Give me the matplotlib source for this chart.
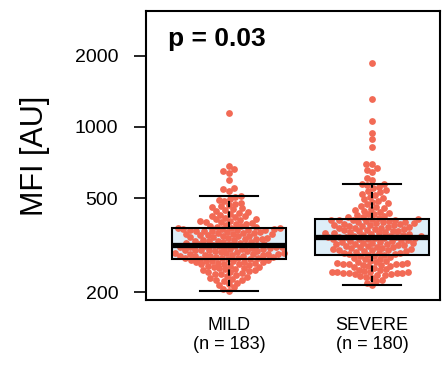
import numpy as np
import matplotlib
matplotlib.use("Agg")
import matplotlib.pyplot as plt

# MFI per group (AU)
groups = ["MILD", "SEVERE"]
group_n = [183, 180]

mild = [
    203, 206, 210, 214, 217, 219, 222, 224, 226, 228, 230, 232, 234, 236, 238,
    239, 241, 242, 244, 245, 247, 248, 250, 251, 252, 254, 255, 256, 258, 259,
    260, 262, 263, 264, 265, 266, 267, 268, 269, 270, 271, 272, 273, 274, 275, 276,
    277, 278, 279, 280, 280, 281, 282, 283, 284, 285, 285, 286, 287, 288, 289,
    290, 290, 291, 292, 293, 294, 295, 296, 297, 298, 299, 300, 300, 301, 302,
    303, 304, 305, 306, 307, 308, 309, 310, 310, 311, 312, 313, 314, 315, 316,
    317, 318, 320, 321, 322, 324, 325, 326, 328, 329, 330, 332, 333, 334, 336,
    337, 338, 340, 341, 342, 344, 345, 347, 348, 349, 351, 352, 353, 355, 356,
    357, 359, 360, 361, 362, 364, 365, 366, 367, 368, 369, 370, 371, 372, 373, 374,
    376, 378, 380, 382, 384, 388, 390, 392, 394, 396, 398, 400, 403, 406, 409,
    412, 415, 418, 421, 424, 428, 432, 436, 440, 444, 448, 452, 457, 462, 467,
    472, 478, 484, 490, 497, 503, 510,
    537, 545, 552, 597, 640, 651, 662, 683, 1148,
]

severe = [
    214, 218, 222, 226, 229, 232, 234, 236, 237, 238, 239, 240, 240, 241, 241,
    242, 242, 243, 244, 245, 247, 249, 251, 253, 255, 257, 259, 260, 261, 262,
    263, 264, 264, 265, 266, 267, 268, 270, 272, 275, 277, 279, 281, 283, 285,
    287, 288, 289, 291, 292, 293, 294, 296, 297, 298, 300, 301, 302, 303, 305,
    306, 307, 309, 310, 311, 312, 314, 315, 316, 318, 319, 320, 322, 323, 324,
    326, 327, 328, 330, 331, 332, 334, 335, 336, 338, 339, 340, 341, 342, 342,
    343, 344, 346, 347, 349, 350, 351, 353, 354, 356, 357, 359, 360, 362, 363,
    364, 366, 367, 369, 370, 372, 374, 375, 377, 378, 380, 381, 383, 384, 386,
    388, 389, 391, 392, 394, 396, 397, 399, 400, 402, 403, 404, 405, 406, 408,
    411, 414, 417, 420, 423, 426, 430, 434, 438, 442, 446, 450, 455, 460, 465,
    470, 476, 482, 488, 494, 500, 507, 514, 521, 528, 535, 542, 550, 558, 566,
    572, 574,
    598, 608, 645, 660, 668, 697, 700, 822, 890, 944, 1060, 1320, 1866,
]

yticks = [200, 500, 1000, 2000]
p_label = "p = 0.03"

DOT = "#F26A55"
BOXFILL = "#DEEEF8"

plt.rcParams["font.family"] = ["Liberation Sans", "DejaVu Sans"]


def swarm_offsets(y_px, spacing):
    # simple beeswarm: place points in ascending order, closest to centre
    order = np.argsort(y_px, kind="stable")
    px_list, py_list = [], []
    xs = np.zeros(len(y_px))
    for i in order:
        y = y_px[i]
        near = [(px, py) for px, py in zip(px_list, py_list) if abs(py - y) < spacing]
        cands = [0.0]
        for px, py in near:
            dx = np.sqrt(spacing ** 2 - (py - y) ** 2)
            cands += [px - dx, px + dx]
        cands.sort(key=lambda c: (abs(c), c))
        x = cands[-1]
        for c in cands:
            if all((c - px) ** 2 + (y - py) ** 2 >= spacing ** 2 - 1e-6 for px, py in near):
                x = c
                break
        xs[i] = x
        px_list.append(x)
        py_list.append(y)
    return xs


fig = plt.figure(figsize=(4.48, 3.65), dpi=100)
ax = fig.add_axes([0.326, 0.178, 0.656, 0.792])
ax.set_yscale("log")
ax.set_ylim(185, 3100)
ax.set_xlim(0.421, 2.474)

data = [mild, severe]
pos = [1, 2]

# box fill underneath the points
ax.boxplot(data, positions=pos, widths=0.8, patch_artist=True, showfliers=False,
           showcaps=False, whis=1.5,
           boxprops=dict(facecolor=BOXFILL, edgecolor="none"),
           whiskerprops=dict(linewidth=0), medianprops=dict(linewidth=0),
           zorder=1)

# swarm points
fig.canvas.draw()
ax_w_px = ax.get_window_extent().width
px_per_unit = ax_w_px / (ax.get_xlim()[1] - ax.get_xlim()[0])
for p, vals in zip(pos, data):
    vals = np.array(vals, dtype=float)
    y_px = ax.transData.transform(np.column_stack([np.full(len(vals), p), vals]))[:, 1]
    off = swarm_offsets(y_px, 5.8)
    ax.scatter(p + off / px_per_unit, vals, s=24, color=DOT, linewidths=0, zorder=2)

# box outlines, median, whiskers on top
ax.boxplot(data, positions=pos, widths=0.8, patch_artist=True, showfliers=False,
           whis=1.5, capwidths=0.4,
           boxprops=dict(facecolor="none", edgecolor="black", linewidth=1.5),
           whiskerprops=dict(color="black", linewidth=1.5, linestyle=(0, (3, 2))),
           capprops=dict(color="black", linewidth=1.5),
           medianprops=dict(color="black", linewidth=3.8, solid_capstyle="butt"),
           zorder=3)

ax.set_yticks(yticks)
ax.set_yticklabels([str(t) for t in yticks])
ax.yaxis.set_minor_locator(matplotlib.ticker.NullLocator())
ax.tick_params(axis="y", labelsize=14, length=9, width=1.2, pad=11)
ax.set_xticks(pos)
ax.set_xticklabels([f"{g}\n(n = {n})" for g, n in zip(groups, group_n)], fontsize=13,
                   linespacing=1.2)
ax.tick_params(axis="x", length=0, pad=12)
ax.set_ylabel("MFI [AU]", fontsize=22, labelpad=18)

for s in ax.spines.values():
    s.set_linewidth(1.5)

ax.text(0.075, 0.945, p_label, transform=ax.transAxes, fontsize=19,
        fontweight="bold", va="top", ha="left")

fig.savefig("out.png", dpi=100)
